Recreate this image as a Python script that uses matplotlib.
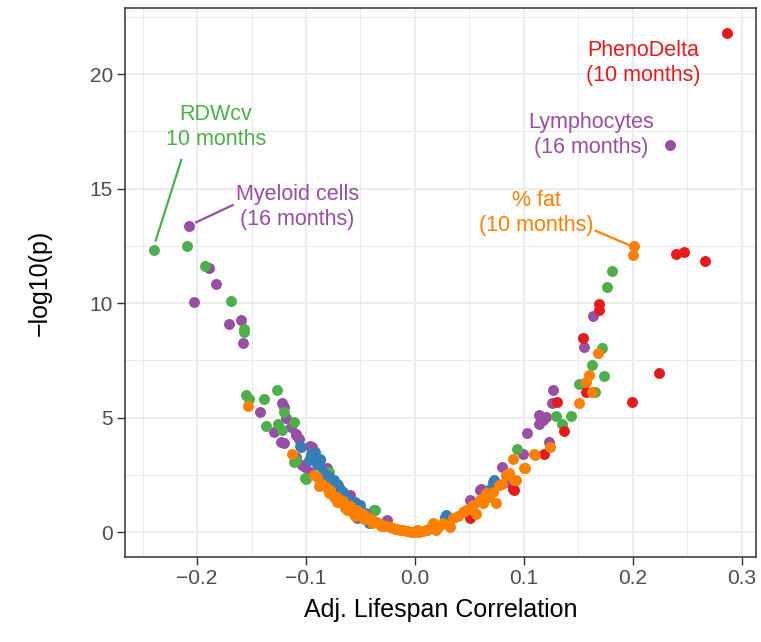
#Volcano style plot: adjusted lifespan correlation vs -log10(p), coloured by group
import numpy as np
from matplotlib import pyplot as plt

plt.rcParams['font.family'] = ['Liberation Sans', 'DejaVu Sans']

#colours (Set1)
red = '#E41A1C'
blue = '#377EB8'
green = '#4DAF4A'
purple = '#984EA3'
orange = '#FF7F00'

#points, (correlation, -log10 p)
purple_x = [-0.207, -0.189, -0.183, -0.2025, -0.171, -0.160, -0.158, -0.1425, -0.122, -0.120, -0.1187,
            -0.129, -0.114, -0.123, -0.120, -0.1096, -0.1066, -0.1096, -0.0959, -0.1035, -0.0959, -0.0807,
            -0.1096, -0.1005, -0.0807, -0.0715, -0.0594, -0.038, -0.0259, -0.0944,
            0.2338, 0.1635, 0.1555, 0.1272, 0.1263, 0.1135, 0.1172, 0.1203, 0.1026, 0.1233, 0.0989,
            0.0801, 0.0852, 0.0603, 0.0594, 0.0502, 0.1141]
purple_y = [13.38, 11.54, 10.84, 10.04, 9.08, 9.27, 8.25, 5.24, 5.64, 5.46, 4.98,
            4.37, 4.59, 3.94, 3.87, 4.30, 4.08, 3.28, 3.76, 2.92, 2.63, 2.78,
            4.23, 2.85, 2.70, 2.12, 1.61, 0.96, 0.52, 3.72,
            16.91, 9.43, 8.08, 6.19, 5.64, 5.10, 4.88, 5.03, 4.33, 3.94, 3.40,
            2.85, 2.19, 1.86, 1.83, 1.39, 4.74]

green_x = [-0.2395, -0.2094, -0.1924, -0.1687, -0.1568, -0.1568, -0.155, -0.152, -0.139, -0.127,
           -0.120, -0.111, -0.137, -0.126, -0.122, -0.1096, -0.0998, -0.0792, -0.111, -0.1005,
           -0.0837, -0.0365,
           0.181, 0.1766, 0.172, 0.163, 0.1738, 0.1507, 0.165, 0.1431, 0.1294, 0.1349, 0.0934,
           0.0685]
green_y = [12.32, 12.48, 11.60, 10.08, 8.88, 8.73, 5.97, 5.83, 5.80, 6.22,
           5.24, 4.81, 4.63, 4.74, 4.45, 3.14, 2.31, 2.63, 3.06, 2.34,
           2.19, 0.96,
           11.39, 10.69, 8.03, 7.28, 6.81, 6.45, 6.10, 5.07, 5.07, 4.74, 3.63,
           1.90]

red_x = [0.2868, 0.240, 0.2475, 0.2667, 0.2237, 0.1994, 0.169, 0.169, 0.1546, 0.1568, 0.1309,
         0.137, 0.1187, 0.0898, 0.0502, 0.0913]
red_y = [21.80, 12.16, 12.25, 11.86, 6.95, 5.68, 9.97, 9.68, 8.49, 6.12, 5.68,
         4.42, 3.40, 1.90, 0.60, 1.83]

blue_x = [-0.1059, -0.0913, -0.0974, -0.0868, -0.0883, -0.0837, -0.0746, -0.0685, -0.0624, -0.0518,
          -0.0533, -0.0426, -0.105, -0.0898, -0.0868, -0.0776, -0.061, -0.0502, -0.095, -0.080,
          -0.057, -0.046, -0.092, -0.084, -0.071, -0.066, -0.055,
          0.0724, 0.0274, 0.0107, 0.0715, 0.029, 0.070]
blue_y = [3.76, 3.50, 3.14, 3.21, 2.92, 2.19, 2.27, 1.90, 1.39, 1.18,
          0.60, 0.38, 3.72, 2.99, 3.14, 2.27, 1.39, 1.18, 3.40, 2.45,
          1.05, 0.85, 3.30, 2.60, 2.05, 1.75, 1.30,
          2.27, 0.67, 0.09, 2.19, 0.74, 1.90]

orange_x = [-0.153, -0.1126, -0.093, -0.0898, -0.085, -0.082, -0.0792, -0.0776, -0.0746, -0.0715,
            -0.0685, -0.066, -0.0624, -0.060, -0.0563, -0.054, -0.052, -0.050, -0.048, -0.046,
            -0.044, -0.042, -0.040, -0.038, -0.036, -0.034, -0.032, -0.030, -0.028, -0.026,
            -0.0228, -0.020, -0.018, -0.016, -0.014, -0.012, -0.0107, -0.008, -0.006, -0.004,
            -0.002, 0.0, -0.088, -0.072, -0.064, -0.055, -0.047, -0.039, -0.031,
            0.2009, 0.200, 0.1683, 0.160, 0.157, 0.163, 0.1507, 0.1239, 0.1105, 0.0898, 0.1014,
            0.0837, 0.0913, 0.0776, 0.0655, 0.0624, 0.0472, 0.0167, 0.0015, 0.0137, 0.0259,
            0.035, 0.0441, 0.0532, 0.0594, 0.0715, 0.0868, 0.0929, 0.1005, 0.1096, 0.0746,
            0.0563, 0.032, 0.0198, 0.004, 0.007, 0.010, 0.022, 0.040, 0.080, 0.050, 0.061, 0.068]
orange_y = [5.49, 3.43, 2.48, 2.41, 2.10, 1.95, 1.69, 1.83, 1.54, 1.54,
            1.32, 1.35, 0.96, 1.15, 0.81, 0.95, 0.88, 0.82, 0.78, 0.72,
            0.67, 0.60, 0.55, 0.50, 0.45, 0.40, 0.36, 0.32, 0.28, 0.25,
            0.23, 0.16, 0.14, 0.12, 0.10, 0.08, 0.09, 0.05, 0.04, 0.02,
            0.01, 0.0, 2.00, 1.30, 1.05, 0.70, 0.55, 0.40, 0.25,
            12.51, 12.12, 7.83, 6.84, 6.55, 6.12, 5.64, 3.72, 3.36, 3.21, 2.78,
            2.48, 2.27, 2.05, 1.69, 1.25, 0.96, 0.38, 0.09, 0.16, 0.38,
            0.60, 0.89, 1.18, 1.39, 1.76, 2.56, 2.27, 2.78, 3.43, 1.25,
            0.81, 0.23, 0.09, 0.02, 0.04, 0.07, 0.25, 0.70, 2.10, 1.00, 1.45, 1.55]

fig = plt.figure(figsize=(7.61, 6.42), dpi=100)
ax = fig.add_axes([0.164, 0.1324, 0.8294, 0.8551])

ms = 62
ax.scatter(purple_x, purple_y, s=ms, color=purple, lw=0, zorder=3)
ax.scatter(green_x, green_y, s=ms, color=green, lw=0, zorder=3)
ax.scatter(red_x, red_y, s=ms, color=red, lw=0, zorder=3)
ax.scatter(blue_x, blue_y, s=ms, color=blue, lw=0, zorder=3)
ax.scatter(orange_x, orange_y, s=ms, color=orange, lw=0, zorder=3)

#labels with leader lines
lab_size = 15.5
lsp = 1.25
ax.text(-0.1826, 17.68, 'RDWcv\n10 months', color=green, ha='center', va='center', fontsize=lab_size, linespacing=lsp)
ax.plot([-0.2146, -0.238], [16.25, 12.73], color=green, lw=1.6, zorder=2)
ax.text(-0.1078, 14.21, 'Myeloid cells\n(16 months)', color=purple, ha='center', va='center', fontsize=lab_size, linespacing=lsp)
ax.plot([-0.2009, -0.1674], [13.53, 14.28], color=purple, lw=1.6, zorder=2)
ax.text(0.1616, 17.35, 'Lymphocytes\n(16 months)', color=purple, ha='center', va='center', fontsize=lab_size, linespacing=lsp)
ax.text(0.210, 20.49, 'PhenoDelta\n(10 months)', color=red, ha='center', va='center', fontsize=lab_size, linespacing=lsp)
ax.text(0.1114, 13.95, '% fat\n(10 months)', color=orange, ha='center', va='center', fontsize=lab_size, linespacing=lsp)
ax.plot([0.166, 0.198], [13.16, 12.51], color=orange, lw=1.6, zorder=2)

#theme_bw look
ax.set_xlim(-0.2664, 0.3132)
ax.set_ylim(-1.09, 22.89)
ax.set_xticks([-0.2, -0.1, 0.0, 0.1, 0.2, 0.3])
ax.set_xticklabels(['\u22120.2', '\u22120.1', '0.0', '0.1', '0.2', '0.3'])
ax.set_yticks([0, 5, 10, 15, 20])
ax.set_xticks([-0.25, -0.15, -0.05, 0.05, 0.15, 0.25], minor=True)
ax.set_yticks([2.5, 7.5, 12.5, 17.5, 22.5], minor=True)
ax.grid(True, which='major', color='#EBEBEB', lw=1.3, zorder=0)
ax.grid(True, which='minor', color='#EBEBEB', lw=0.7, zorder=0)
ax.set_axisbelow(True)
ax.tick_params(which='major', length=5.5, width=1, color='#333333', labelsize=15, labelcolor='#4D4D4D', pad=3)
ax.tick_params(which='minor', length=0)
for s in ax.spines.values():
    s.set_color('#333333')
    s.set_linewidth(1.1)

ax.set_xlabel('Adj. Lifespan Correlation', fontsize=18, labelpad=7)
ax.set_ylabel('\u2212log10(p)', fontsize=18, labelpad=27)

fig.savefig('out.png', dpi=100)
